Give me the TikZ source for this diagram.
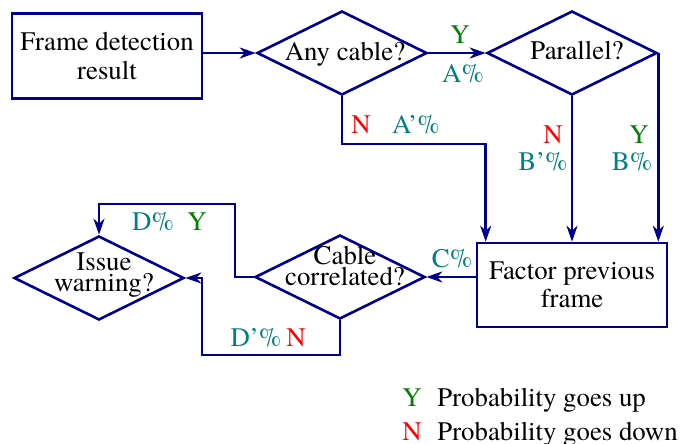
\documentclass[tikz,border=0pt]{standalone}
\usepackage{fontspec}
\setmainfont{texgyretermes-regular.otf}[Ligatures=TeX]
\usetikzlibrary{shapes.geometric,arrows.meta}
\definecolor{lineblue}{RGB}{0,0,140}
\definecolor{pct}{RGB}{0,128,128}
\definecolor{yes}{RGB}{0,128,0}
\definecolor{no}{RGB}{255,0,0}
\begin{document}
\begin{tikzpicture}[x=0.5pt,y=-0.5pt,
  every node/.style={font=\fontsize{13.4}{14.25}\selectfont, inner sep=0pt},
  proc/.style={draw=lineblue, line width=1.3pt, minimum width=95pt, minimum height=42.5pt, align=center},
  dia/.style={draw=lineblue, line width=1.3pt, shape=diamond, minimum width=85pt, minimum height=42pt},
  dtext/.style={align=center, font=\fontsize{13.4}{10.5}\selectfont},
  conn/.style={draw=lineblue, line width=1.3pt, -{Stealth[length=8pt,width=5.5pt,inset=2.5pt]}},
  ylab/.style={text=yes}, nlab/.style={text=no}, plab/.style={text=pct}]
\fill[white] (0,0) rectangle (681,444);
\useasboundingbox (0,0) rectangle (681,444);

% boxes
\node[proc] (frame) at (107,56) {Frame detection\\result};
\node[proc, minimum height=42pt] (factor) at (572,285) {Factor previous\\frame};

% diamonds
\node[dia] (any) at (342,53) {};
\node[dia] (par) at (572,53) {};
\node[dia] (cc) at (340,277) {};
\node[dia] (iw) at (99,278) {};

% diamond texts
\node[anchor=base] (anyT) at (345,61) {Any cable?};
\node[anchor=base] (parT) at (577,60) {Parallel?};
\node[dtext] (ccT) at (345,266) {Cable\\correlated?};
\node[dtext] (iwT) at (104,275) {Issue\\warning?};

% helper coordinates
\coordinate (k1) at (342,144);
\coordinate (k2) at (235,204);
\coordinate (k3) at (202,355);

% connectors
\draw[conn] (frame.east |- any.west) -- (any.west);
\draw[conn] (any.east) -- (par.west);
\draw[conn] (any.south) -- (k1) -| (par.west |- factor.north);
\draw[conn] (par.south) -- (factor.north);
\draw[conn] (par.east) -- (par.east |- factor.north);
\draw[conn] (factor.west |- cc.east) -- (cc.east);
\draw[conn] (cc.west) -| (k2) -| (iw.north);
\draw[conn] (cc.south) |- (k3) |- (iw.east);

% edge labels
\node[ylab] (l1) at (460,35) {Y};
\node[plab] (l2) at (463,74) {A\%};
\node[nlab] (l3) at (361,125) {N};
\node[plab] (l4) at (416,125) {A’\%};
\node[nlab] (l5) at (553,135) {N};
\node[plab] (l6) at (543,162) {B’\%};
\node[ylab] (l7) at (639,135) {Y};
\node[plab] (l8) at (632,162) {B\%};
\node[plab] (l9) at (452,259) {C\%};
\node[plab] (l10) at (153,222) {D\%};
\node[ylab] (l11) at (197,222) {Y};
\node[plab] (l12) at (256,338) {D’\%};
\node[nlab] (l13) at (296,338) {N};

% legend
\node[ylab, anchor=base] (ly) at (412,406) {Y};
\node[anchor=base west] (lyt) at (437,406) {Probability goes up};
\node[nlab, anchor=base] (ln) at (412,440) {N};
\node[anchor=base west] (lnt) at (437,440) {Probability goes down};
\end{tikzpicture}
\end{document}
